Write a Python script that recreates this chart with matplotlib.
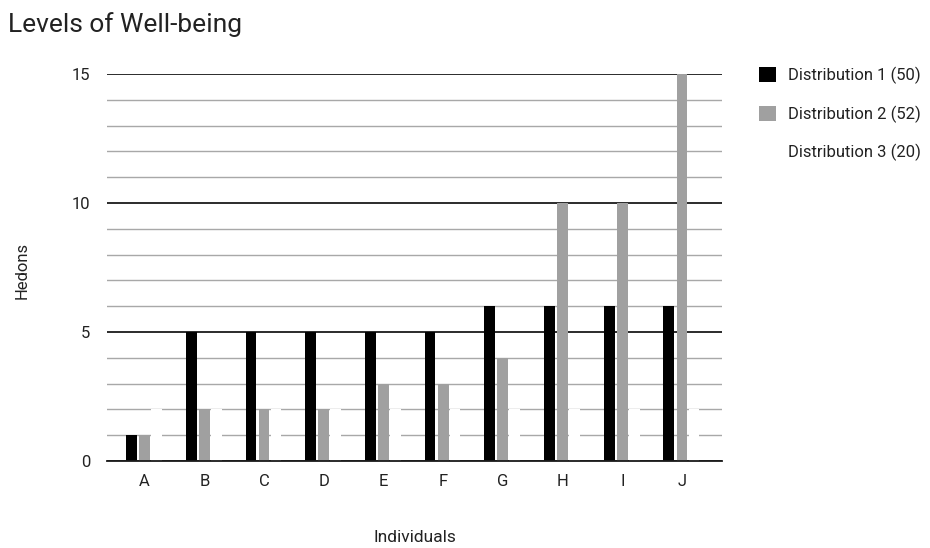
import matplotlib
matplotlib.use("Agg")
import matplotlib.pyplot as plt
from matplotlib.ticker import MultipleLocator
import numpy as np

categories = ["A", "B", "C", "D", "E", "F", "G", "H", "I", "J"]
dist1 = [1, 5, 5, 5, 5, 5, 6, 6, 6, 6]
dist2 = [1, 2, 2, 2, 3, 3, 4, 10, 10, 15]
dist3 = [2, 2, 2, 2, 2, 2, 2, 2, 2, 2]
series_names = ["Distribution 1 (50)", "Distribution 2 (52)", "Distribution 3 (20)"]
colors = ["#000000", "#a0a0a0", "#ffffff"]

plt.rcParams['font.family'] = ['Roboto', 'DejaVu Sans']

fig = plt.figure(figsize=(9.3, 5.48), dpi=100)
ax = fig.add_axes([107/930, 1-461/548, (722-107)/930, (461-74)/548])

x = np.arange(len(categories))
w = 0.18
offs = [-0.22, 0.0, 0.2]
handles = []
for vals, off, c, name in zip([dist1, dist2, dist3], offs, colors, series_names):
    b = ax.bar(x + off, vals, width=w, color=c, label=name, zorder=3)
    handles.append(b)

ax.set_xlim(-0.63, 9.67)
ax.set_ylim(0, 15)
ax.yaxis.set_major_locator(MultipleLocator(5))
ax.yaxis.set_minor_locator(MultipleLocator(1))
ax.set_axisbelow(True)
ax.grid(which='major', axis='y', color='#1a1a1a', linewidth=1.3, zorder=0)
ax.grid(which='minor', axis='y', color='#a8a8a8', linewidth=1.0, zorder=0)
ax.axhline(0, color='#1a1a1a', linewidth=1.3, zorder=5, clip_on=False)
for s in ax.spines.values():
    s.set_visible(False)
ax.tick_params(which='both', length=0)
ax.tick_params(axis='y', pad=12, labelsize=12, labelcolor='#222222')
ax.tick_params(axis='x', pad=9, labelsize=12, labelcolor='#222222')
ax.set_xticks(x)
ax.set_xticklabels(categories)

fig.text(8/930, 1-25/548, "Levels of Well-being", fontsize=19, color='#222222', va='center', ha='left')
fig.text(22/930, 1-270/548, "Hedons", fontsize=12, color='#222222', rotation=90, va='center', ha='center')
fig.text(415/930, 1-538/548, "Individuals", fontsize=12.5, color='#222222', va='center', ha='center')

leg = ax.legend(handles=handles, labels=series_names, loc='upper left',
                bbox_to_anchor=(744/930, 1-52/548), bbox_transform=fig.transFigure,
                frameon=False, fontsize=12, handlelength=1.0, handleheight=1.0,
                labelspacing=1.28, handletextpad=0.75, labelcolor='#222222')

fig.savefig("out.png", dpi=100)
